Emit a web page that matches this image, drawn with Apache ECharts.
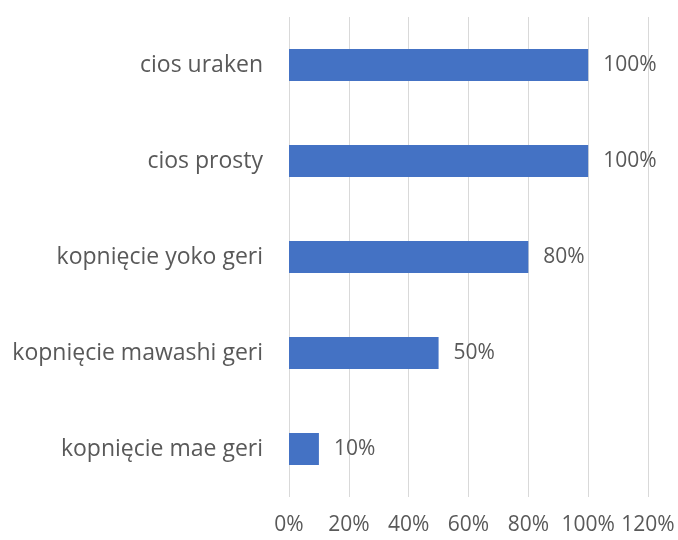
<!DOCTYPE html>
<html>
<head>
<meta charset="utf-8">
<script src="https://cdn.jsdelivr.net/npm/echarts@6/dist/echarts.min.js"></script>
<style>
  html, body { margin: 0; padding: 0; background: #ffffff; }
  #chart { width: 678px; height: 540px; }
</style>
</head>
<body>
<div id="chart"></div>
<script>
// Techniques, listed bottom to top as drawn on the category axis
const categories = [
  'kopnięcie mae geri',
  'kopnięcie mawashi geri',
  'kopnięcie yoko geri',
  'cios prosty',
  'cios uraken'
];
// Share of participants (%) for each technique
const values = [10, 50, 80, 100, 100];
// Value axis range and step (%)
const axisMin = 0;
const axisMax = 120;
const axisStep = 20;

const textColor = '#595959';
const fontFamily = '"Open Sans", "DejaVu Sans", sans-serif';

const chart = echarts.init(document.getElementById('chart'), null, { renderer: 'canvas' });
chart.setOption({
  backgroundColor: '#ffffff',
  animation: false,
  grid: { left: 289, right: 30, top: 17, bottom: 43, containLabel: false },
  xAxis: {
    type: 'value',
    min: axisMin,
    max: axisMax,
    interval: axisStep,
    axisLine: { show: false },
    axisTick: { show: false },
    splitLine: { show: true, lineStyle: { color: '#d9d9d9', width: 1 } },
    axisLabel: {
      color: textColor,
      fontFamily: fontFamily,
      fontSize: 21,
      margin: 18,
      formatter: v => v + '%'
    }
  },
  yAxis: {
    type: 'category',
    data: categories,
    axisLine: { show: false },
    axisTick: { show: false },
    splitLine: { show: false },
    axisLabel: {
      color: textColor,
      fontFamily: fontFamily,
      fontSize: 23,
      margin: 26
    }
  },
  series: [{
    type: 'bar',
    data: values,
    barWidth: 32,
    itemStyle: { color: '#4472c4' },
    label: {
      show: true,
      position: 'right',
      distance: 15,
      color: textColor,
      fontFamily: fontFamily,
      fontSize: 21,
      formatter: p => p.value + '%'
    }
  }]
});
</script>
</body>
</html>
